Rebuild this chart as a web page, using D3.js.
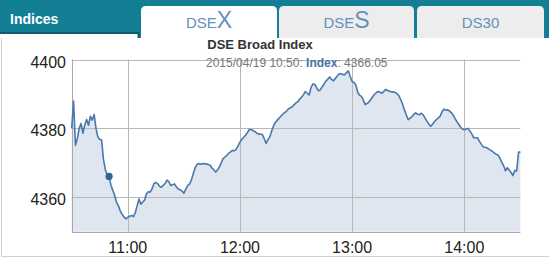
<!DOCTYPE html>
<html>
<head>
<meta charset="utf-8">
<script src="https://cdn.jsdelivr.net/npm/d3@7"></script>
<style>
  body { margin: 0; background: #fff; }
  svg { display: block; font-family: "Liberation Sans", Arial, sans-serif; }
</style>
</head>
<body>
<div class="box"></div>
<script>
// one value per minute, from 10:30
const startTime = '10:30';
const indexValues = [
  4380, 4387.9, 4375.1, 4377, 4380, 4381.4, 4378.6, 4381, 4382.6, 4380.9,
  4383.5, 4382.4, 4384, 4380, 4377.5, 4376.8, 4376.6, 4371, 4368, 4366.5,
  4366.05, 4363.5, 4362, 4360.5, 4358.5, 4357.5, 4356, 4355, 4354.3, 4353.7,
  4354.2, 4354.5, 4354.7, 4354.4, 4355.5, 4357.5, 4359.5, 4358, 4358.6, 4359.2,
  4361, 4361.6, 4361.5, 4362.5, 4364, 4364.3, 4363.9, 4363.2, 4362.9, 4363.5,
  4364, 4365, 4364.5, 4363.4, 4363.6, 4363.9, 4363, 4362.4, 4362.2, 4361.8,
  4361.2, 4362.3, 4363.4, 4363.8, 4365, 4366.8, 4368.5, 4369.5, 4369.8, 4369.6,
  4369.8, 4369.7, 4369.7, 4369.5, 4369.3, 4368.5, 4368, 4367.3, 4368, 4368.8,
  4370, 4371.2, 4371.7, 4372.2, 4372.8, 4373.2, 4373.6, 4373.5, 4374, 4374.9,
  4376, 4376.8, 4377.4, 4378, 4378.8, 4379.7, 4379.6, 4379.4, 4379.1, 4378.6,
  4378.4, 4378.3, 4378.2, 4377, 4375.6, 4376.8, 4377.6, 4379.3, 4380.8, 4381.8,
  4382.4, 4383, 4383.6, 4384.2, 4384.6, 4385.1, 4385.7, 4386, 4386.3, 4386.9,
  4387.4, 4387.8, 4388.5, 4389.1, 4389.8, 4390.7, 4390.2, 4389.7, 4391.8, 4392.9,
  4392.8, 4391.8, 4390.9, 4391.2, 4392.1, 4392.9, 4393.8, 4394.3, 4394.9, 4394.2,
  4393.8, 4394.5, 4395.2, 4395.8, 4395.9, 4395.6, 4395.6, 4396.2, 4396.7, 4395,
  4393.6, 4393.3, 4392.6, 4390.5, 4389.6, 4389.3, 4388.2, 4386.9, 4387.2, 4387.7,
  4388.4, 4389.2, 4389.9, 4390.4, 4390.7, 4390.5, 4390.2, 4390.8, 4391.3, 4391,
  4390.8, 4390.6, 4390.6, 4390.4, 4390.1, 4389.5, 4388.3, 4387, 4385.3, 4383.9,
  4382.5, 4383, 4383.4, 4384.1, 4384.5, 4384.1, 4384, 4384.4, 4383.9, 4383,
  4382.1, 4381.3, 4380.6, 4381.2, 4381.9, 4382.5, 4383, 4383.5, 4384.7, 4385.6,
  4385.3, 4385.4, 4385.1, 4384.6, 4383.9, 4382.9, 4382, 4381.2, 4380.4, 4379.8,
  4379.6, 4379.8, 4380, 4379.2, 4378.4, 4377.3, 4377.3, 4377.3, 4376.3, 4375.5,
  4374.7, 4374.5, 4374.4, 4374, 4373.7, 4373.3, 4372.9, 4372.5, 4372.3, 4371.4,
  4370.2, 4369.2, 4367.7, 4368.6, 4367.9, 4367.2, 4366.3, 4367.8, 4367.6, 4373.1,
  4373.1
];
const xTicks = ['11:00', '12:00', '13:00', '14:00'];
const yTicks = [4360, 4380, 4400];
const tabs = [
  {base: 'DSE', big: 'X'},
  {base: 'DSE', big: 'S'},
  {base: 'DS30', big: ''}
];
const hovered = {time: '10:50', value: 4366.05};

const W = 549, H = 259;
const plot = {left: 71.7, right: 520.4, top: 59.5, bottom: 231.7};

const parse = d3.timeParse('%Y/%m/%d %H:%M');
const day = '2015/04/19 ';
const t0 = parse(day + startTime);
const donnee = indexValues.map((v, i) => ({t: d3.timeMinute.offset(t0, i), v: v}));

const svg = d3.select('.box')
              .append('svg')
              .attr('width', W)
              .attr('height', H);

// bandeau du haut
svg.append('rect').attr('x', 0).attr('y', 0).attr('width', W).attr('height', 38).attr('fill', '#137f94');
svg.append('rect').attr('x', 0).attr('y', 34).attr('width', 138).attr('height', 5).attr('fill', '#fff');
svg.append('path').attr('d', 'M0,33 H138.5 V38').attr('fill', 'none').attr('stroke', '#0b5d6d').attr('stroke-width', 2);
svg.append('text').attr('x', 10).attr('y', 24)
   .attr('fill', '#fff').attr('font-weight', 'bold').attr('font-size', 14).text('Indices');

const tabX = [[141, 277], [279, 414], [417, 544]];
tabs.forEach((tb, i) => {
  const [a, b] = tabX[i];
  const active = i === 0;
  svg.append('path')
     .attr('d', `M${a},${active ? 40 : 38} V11 Q${a},6 ${a + 5},6 H${b - 5} Q${b},6 ${b},11 V${active ? 40 : 38} Z`)
     .attr('fill', active ? '#fff' : '#ededed');
  const t = svg.append('text').attr('x', (a + b) / 2).attr('y', 28)
               .attr('text-anchor', 'middle').attr('fill', '#6590bd');
  t.append('tspan').attr('font-size', 15).text(tb.base);
  if (tb.big) t.append('tspan').attr('font-size', 23).text(tb.big);
});
svg.append('rect').attr('x', 0).attr('y', 38).attr('width', W).attr('height', H - 38).attr('fill', '#fff');

// cadre
svg.append('path').attr('d', `M1.5,38 V${H - 2.5} H${W}`).attr('fill', 'none').attr('stroke', '#d0d0d0');

const x = d3.scaleTime()
            .domain([t0, parse(day + '14:30')])
            .range([plot.left, plot.right]);
const y = d3.scaleLinear()
            .domain([4350, 4400])
            .range([plot.bottom, plot.top]);

const graph = svg.append('g');

// aire
const area = d3.area().x(d => x(d.t)).y0(plot.bottom).y1(d => y(d.v));
const line = d3.line().x(d => x(d.t)).y(d => y(d.v));

graph.append('path').datum(donnee).attr('d', area).attr('fill', '#dfe6f0');

// grille
graph.selectAll('.gy').data(yTicks).enter().append('line')
     .attr('x1', plot.left).attr('x2', plot.right)
     .attr('y1', d => Math.round(y(d)) + 0.5).attr('y2', d => Math.round(y(d)) + 0.5)
     .attr('stroke', '#b8b8b8');
graph.selectAll('.gx').data(xTicks).enter().append('line')
     .attr('x1', d => Math.round(x(parse(day + d))) + 0.5).attr('x2', d => Math.round(x(parse(day + d))) + 0.5)
     .attr('y1', plot.top).attr('y2', plot.bottom)
     .attr('stroke', '#b8b8b8');
graph.append('path')
     .attr('d', `M${Math.round(plot.left) + 0.5},${plot.top} V${Math.round(plot.bottom) + 0.5} H${plot.right}`)
     .attr('fill', 'none').attr('stroke', '#a8a8a8');

graph.append('path').datum(donnee).attr('d', line)
     .attr('fill', 'none').attr('stroke', '#4a78aa').attr('stroke-width', 1.6)
     .attr('stroke-linejoin', 'round');

// point survolé
graph.append('circle')
     .attr('cx', x(parse(day + hovered.time))).attr('cy', y(hovered.value))
     .attr('r', 3.6).attr('fill', '#2f6596');

// étiquettes
svg.selectAll('.ly').data(yTicks).enter().append('text')
   .attr('x', 66).attr('y', d => y(d) + 8)
   .attr('text-anchor', 'end').attr('font-size', 16).attr('fill', '#222')
   .text(d => d);
svg.selectAll('.lx').data(xTicks).enter().append('text')
   .attr('x', d => x(parse(day + d))).attr('y', 253)
   .attr('text-anchor', 'middle').attr('font-size', 16).attr('fill', '#222')
   .text(d => d);

// titre
svg.append('text').attr('x', 260).attr('y', 49).attr('text-anchor', 'middle')
   .attr('font-size', 13).attr('font-weight', 'bold').attr('fill', '#333')
   .text('DSE Broad Index');
const sub = svg.append('text').attr('x', 206).attr('y', 66.5)
               .attr('font-size', 12).attr('fill', '#777');
sub.append('tspan').text('2015/04/19 ' + hovered.time + ': ');
sub.append('tspan').attr('font-weight', 'bold').attr('fill', '#4572a7').text('Index');
sub.append('tspan').text(': ' + hovered.value.toFixed(2));
</script>
</body>
</html>
